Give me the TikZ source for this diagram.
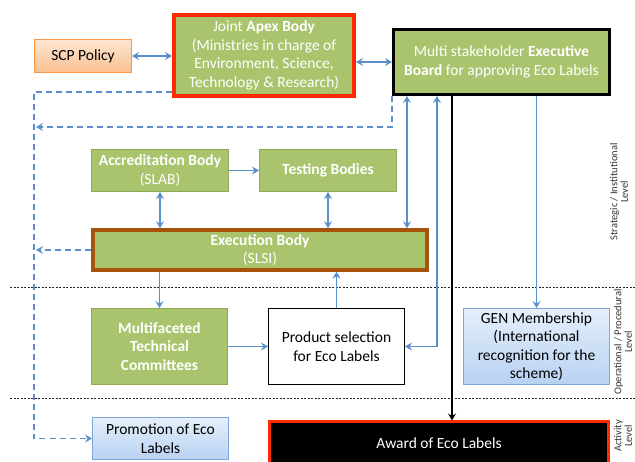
\documentclass[tikz,border=0pt]{standalone}
\usepackage{fontspec}
\setmainfont{Carlito}
\usetikzlibrary{arrows.meta}
\definecolor{gfill}{HTML}{AAC46D}
\definecolor{gborder}{HTML}{8EAA55}
\definecolor{apexred}{HTML}{FF2A00}
\definecolor{execbrown}{HTML}{A5540A}
\definecolor{linkblue}{HTML}{5B8FCB}
\definecolor{oborder}{HTML}{F79646}
\definecolor{otop}{HTML}{FDE6D3}
\definecolor{obot}{HTML}{FAC08F}
\definecolor{bborder}{HTML}{7EA6DA}
\definecolor{btop}{HTML}{E5EFFB}
\definecolor{bbot}{HTML}{B8D2F2}
\begin{document}
\begin{tikzpicture}[x=1pt,y=-1pt,
  every node/.style={font=\fontsize{15.5}{18.5}\selectfont, align=center, inner sep=1pt},
  greenbox/.style={draw=gborder, fill=gfill, text=white, line width=1pt},
  orangebox/.style={draw=oborder, top color=otop, bottom color=obot, line width=1pt},
  bluebox/.style={draw=bborder, top color=btop, bottom color=bbot, line width=1pt},
  sidelabel/.style={font=\fontsize{10.5}{10.5}\selectfont, text=black!80, rotate=90},
  link/.style={draw=linkblue, line width=1.6pt, -{Stealth[length=7pt,width=8pt,inset=2.5pt]}},
  both/.style={link, {Stealth[length=7pt,width=8pt,inset=2.5pt]}-{Stealth[length=7pt,width=8pt,inset=2.5pt]}},
  dashlink/.style={link, dash pattern=on 6pt off 4pt},
  blackarrow/.style={draw=black, line width=1.5pt, -{Stealth[length=7pt,width=8pt,inset=2.5pt]}},
  sepline/.style={draw=black!85, line width=0.7pt, dash pattern=on 2pt off 1.5pt}]
\useasboundingbox (0,0) rectangle (635,462);

\draw[sepline] (10,287) -- (635,287);
\draw[sepline] (10,398) -- (635,398);

\node[orangebox, minimum width=97, minimum height=33] (scp) at (83,56) {SCP Policy};
\node[greenbox, draw=apexred, line width=4pt, minimum width=180, minimum height=81] (apex) at (264,55.5) {Joint \textbf{Apex Body}\\(Ministries in charge of\\Environment, Science,\\Technology \& Research)};
\node[greenbox, draw=black, line width=3pt, minimum width=216, minimum height=65] (board) at (501.5,62) {Multi stakeholder \textbf{Executive}\\\textbf{Board} for approving Eco Labels};
\node[greenbox, minimum width=137, minimum height=42] (accr) at (160,170.5) {\textbf{Accreditation Body}\\(SLAB)};
\node[greenbox, minimum width=137, minimum height=42] (test) at (328,170.5) {\textbf{Testing Bodies}};
\node[greenbox, draw=execbrown, line width=3.5pt, minimum width=334, minimum height=40] (exec) at (260,250) {\textbf{Execution Body}\\(SLSI)};
\node[greenbox, minimum width=136, minimum height=76] (multi) at (159.5,346.5) {\textbf{Multifaceted}\\\textbf{Technical}\\\textbf{Committees}};
\node[draw=black, fill=white, line width=1pt, minimum width=136, minimum height=76] (prod) at (336.5,346.5) {Product selection\\for Eco Labels};
\node[bluebox, minimum width=146, minimum height=76] (gen) at (536.5,346.5) {GEN Membership\\(International\\recognition for the\\scheme)};
\node[bluebox, minimum width=136, minimum height=42] (promo) at (160.5,438.5) {Promotion of Eco\\Labels};
\node[fill=black, draw=apexred, line width=3pt, text=white, minimum width=339, minimum height=42] (award) at (439,443) {Award of Eco Labels};

\node[sidelabel] (strategic) at (619,192) {Strategic / Institutional\\Level};
\node[sidelabel] (operational) at (623,342) {Operational / Procedural\\Level};
\node[sidelabel] (activity) at (623,436) {Activity\\Level};

\coordinate (rail) at (34,0);
\coordinate (xa) at (407,0);
\coordinate (xb) at (437,0);
\coordinate (xc) at (452,0);
\coordinate (boardloop) at (36,127);

\draw[both] (scp.east) -- (scp.east -| apex.west);
\draw[both] (apex.east |- board.west) -- (board.west);
\draw[both] (board.south -| xa) -- (exec.north -| xa);
\draw[both] (board.south -| xb) |- (prod.east);
\draw[blackarrow] (board.south -| xc) -- (award.north -| xc);
\draw[link] (board.south -| gen.north) -- (gen.north);
\draw[link] (accr) -- (test);
\draw[both] (accr.south) -- (accr.south |- exec.north);
\draw[both] (test.south) -- (test.south |- exec.north);
\draw[link] (exec.south -| multi.north) -- (multi.north);
\draw[link] (prod.north) -- (prod.north |- exec.south);
\draw[link] (multi) -- (prod);
\draw[dashlink] ([yshift=6pt]apex.south west) -| (rail |- promo.west) -- (promo.west);
\draw[dashlink] (board.south west) |- (boardloop);
\draw[dashlink] (exec.west) -- (exec.west -| boardloop);
\end{tikzpicture}
\end{document}
